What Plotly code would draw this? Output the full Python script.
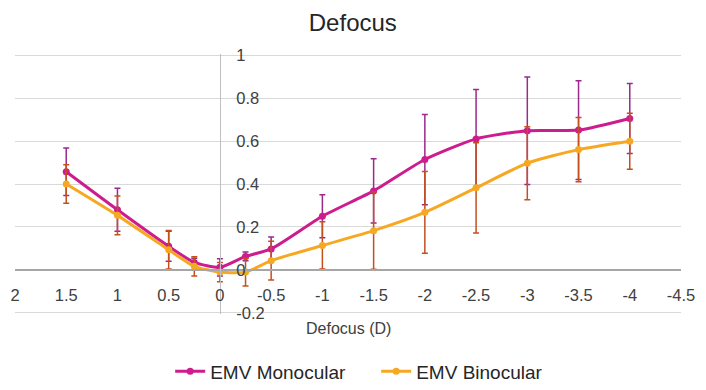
import plotly.graph_objects as go

defocus = [1.5, 1, 0.5, 0.25, 0, -0.25, -0.5, -1, -1.5, -2, -2.5, -3, -3.5, -4]
mono = [0.457, 0.28, 0.11, 0.035, 0.012, 0.063, 0.098, 0.25, 0.368, 0.514, 0.61, 0.648, 0.651, 0.705]
mono_err = [0.11, 0.10, 0.07, 0.02, 0.04, 0.02, 0.055, 0.10, 0.15, 0.21, 0.23, 0.25, 0.23, 0.163]
bino = [0.40, 0.254, 0.094, 0.017, -0.01, -0.01, 0.043, 0.114, 0.183, 0.268, 0.382, 0.497, 0.56, 0.599]
bino_err = [0.09, 0.09, 0.09, 0.045, 0.045, 0.065, 0.09, 0.11, 0.18, 0.19, 0.21, 0.17, 0.15, 0.13]

x_ticks = [2, 1.5, 1, 0.5, 0, -0.5, -1, -1.5, -2, -2.5, -3, -3.5, -4, -4.5]
x_tick_labels = ["2", "1.5", "1", "0.5", "0", "-0.5", "-1", "-1.5", "-2", "-2.5", "-3", "-3.5", "-4", "-4.5"]
y_ticks = [-0.2, 0, 0.2, 0.4, 0.6, 0.8, 1]
y_tick_labels = ["-0.2", "0", "0.2", "0.4", "0.6", "0.8", "1"]

FONT = "Liberation Sans, Arial, sans-serif"
xr = [2, -4.5]
yr = [-0.205, 1.005]

fig = go.Figure()
fig.add_trace(go.Scatter(
    x=defocus, y=mono, name="EMV Monocular", mode="lines+markers",
    line=dict(color="#CC1C8E", width=3, shape="spline", smoothing=0.6),
    marker=dict(color="#CC1C8E", size=7),
    error_y=dict(type="data", array=mono_err, visible=True, color="#9A2A8E", thickness=1.5, width=3),
))
fig.add_trace(go.Scatter(
    x=defocus, y=bino, name="EMV Binocular", mode="lines+markers",
    line=dict(color="#F7A823", width=3, shape="spline", smoothing=0.6),
    marker=dict(color="#F7A823", size=7),
    error_y=dict(type="data", array=bino_err, visible=True, color="#C4501E", thickness=1.5, width=3),
))

xpos = (0 - yr[0]) / (yr[1] - yr[0])
ypos = (0 - xr[0]) / (xr[1] - xr[0])

# page body has an 8px default margin, so the figure is 698x382 placed at (8,8)
fig.update_layout(
    width=698, height=382,
    margin=dict(l=7, r=25, t=46, b=76, autoexpand=False),
    paper_bgcolor="white", plot_bgcolor="white",
    font=dict(family=FONT, color="#404040", size=16),
    title=dict(text="Defocus", x=0.494, xanchor="center", y=0.961, yanchor="middle",
               font=dict(size=24, color="#262626", family=FONT)),
    showlegend=True,
    legend=dict(orientation="h", x=0.233, xanchor="left", y=-0.221, yanchor="middle",
                font=dict(size=19, color="#262626", family=FONT), itemwidth=30,
                entrywidth=161, entrywidthmode="pixels"),
    xaxis=dict(range=xr, tickvals=x_ticks, ticktext=x_tick_labels, showgrid=False,
               zeroline=False, anchor="free", position=xpos, showline=True,
               linecolor="#a6a6a6", linewidth=1.5, ticks="", ticklabelstandoff=10,
               automargin=False, tickfont=dict(size=16.5, color="#404040")),
    yaxis=dict(range=yr, tickvals=y_ticks, ticktext=y_tick_labels, showgrid=True,
               gridcolor="#d9d9d9", gridwidth=1, zeroline=False, anchor="free",
               position=ypos, side="right", showline=True, linecolor="#bfbfbf",
               linewidth=1, ticks="", ticklabelstandoff=12, automargin=False,
               tickfont=dict(size=16.5, color="#404040")),
    annotations=[dict(text="Defocus (D)", xref="paper", yref="paper", x=0.5, y=-0.054,
                      xanchor="center", yanchor="middle", showarrow=False,
                      font=dict(size=16, color="#404040", family=FONT))],
)

fig.write_html("out.html")
